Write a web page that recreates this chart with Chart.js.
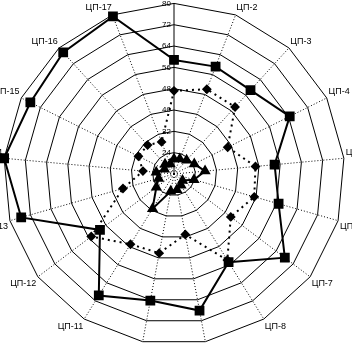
<!DOCTYPE html>
<html>
<head>
<meta charset="utf-8">
<script src="https://cdn.jsdelivr.net/npm/chart.js@4.4.1/dist/chart.umd.min.js"></script>
<style>
  html, body { margin: 0; padding: 0; background: #fff; overflow: hidden; }
  body { width: 352px; height: 344px; position: relative; }
  #wrap { position: absolute; left: -26px; top: -25px; width: 396px; height: 396px; }
</style>
</head>
<body>
<div id="wrap"><canvas id="radar"></canvas></div>
<script>
// categories
const categories = ['ЦП-1', 'ЦП-2', 'ЦП-3', 'ЦП-4', 'ЦП-5', 'ЦП-6', 'ЦП-7', 'ЦП-8', 'ЦП-9',
    'ЦП-10', 'ЦП-11', 'ЦП-12', 'ЦП-13', 'ЦП-14', 'ЦП-15', 'ЦП-16', 'ЦП-17'];

// series values
const seriesOuter = [58.8, 59.2, 58.6, 64.5, 53.9, 56.8, 68.1, 54.9, 68.1, 64.3, 69.6, 50.8, 75.6, 80.0, 76.2, 77.7, 79.4];
const seriesMiddle = [47.2, 50.1, 50.0, 38.5, 46.7, 47.3, 42.7, 54.0, 39.1, 46.2, 47.0, 54.9, 35.9, 27.7, 30.9, 30.7, 28.9];
const seriesInner = [21.6, 22, 23, 24.5, 27.7, 23.8, 20, 21, 22, 22.6, 31.3, 24.3, 22, 22.7, 20, 21, 20];

// value axis
const axisMin = 16;
const axisMax = 80;
const axisStep = 8;

// tick labels drawn to the left of the first axis
const sideTicks = {
    id: 'sideTicks',
    afterDatasetsDraw(chart) {
        const scale = chart.scales.r;
        const ctx = chart.ctx;
        ctx.save();
        ctx.font = '8px "Liberation Sans", Arial, sans-serif';
        ctx.fillStyle = '#000';
        ctx.textAlign = 'right';
        ctx.textBaseline = 'middle';
        scale.ticks.forEach(t => {
            if (t.value <= axisMin) return;
            const d = scale.getDistanceFromCenterForValue(t.value);
            ctx.fillText(String(t.value), scale.xCenter - 3, scale.yCenter - d);
        });
        ctx.restore();
    }
};

const ctx = document.getElementById('radar').getContext('2d');
new Chart(ctx, {
    type: 'radar',
    data: {
        labels: categories,
        datasets: [
            {
                label: 'Ряд 1',
                data: seriesOuter,
                borderColor: '#000',
                borderWidth: 2,
                fill: false,
                pointStyle: 'rect',
                pointRadius: 5.5,
                pointBackgroundColor: '#000',
                pointBorderColor: '#000'
            },
            {
                label: 'Ряд 2',
                data: seriesMiddle,
                borderColor: '#000',
                borderWidth: 2,
                borderDash: [2, 4],
                fill: false,
                pointStyle: 'rectRot',
                pointRadius: 3.5,
                pointBackgroundColor: '#000',
                pointBorderColor: '#000'
            },
            {
                label: 'Ряд 3',
                data: seriesInner,
                borderColor: '#000',
                borderWidth: 2,
                fill: false,
                pointStyle: 'triangle',
                pointRadius: 4.5,
                pointBackgroundColor: '#000',
                pointBorderColor: '#000'
            }
        ]
    },
    options: {
        responsive: true,
        maintainAspectRatio: false,
        animation: false,
        layout: { padding: 0 },
        plugins: {
            legend: { display: false },
            tooltip: { enabled: false }
        },
        scales: {
            r: {
                min: axisMin,
                max: axisMax,
                ticks: { stepSize: axisStep, display: false },
                grid: {
                    color: '#000',
                    lineWidth: 1,
                    borderDash: [4, 3]
                },
                angleLines: {
                    color: '#000',
                    lineWidth: 1,
                    borderDash: ctx => ctx.index === 0 ? [] : [1, 2]
                },
                pointLabels: {
                    color: '#000',
                    padding: 2,
                    font: { family: '"Liberation Sans", Arial, sans-serif', size: 9 }
                }
            }
        }
    },
    plugins: [sideTicks]
});
</script>
</body>
</html>
